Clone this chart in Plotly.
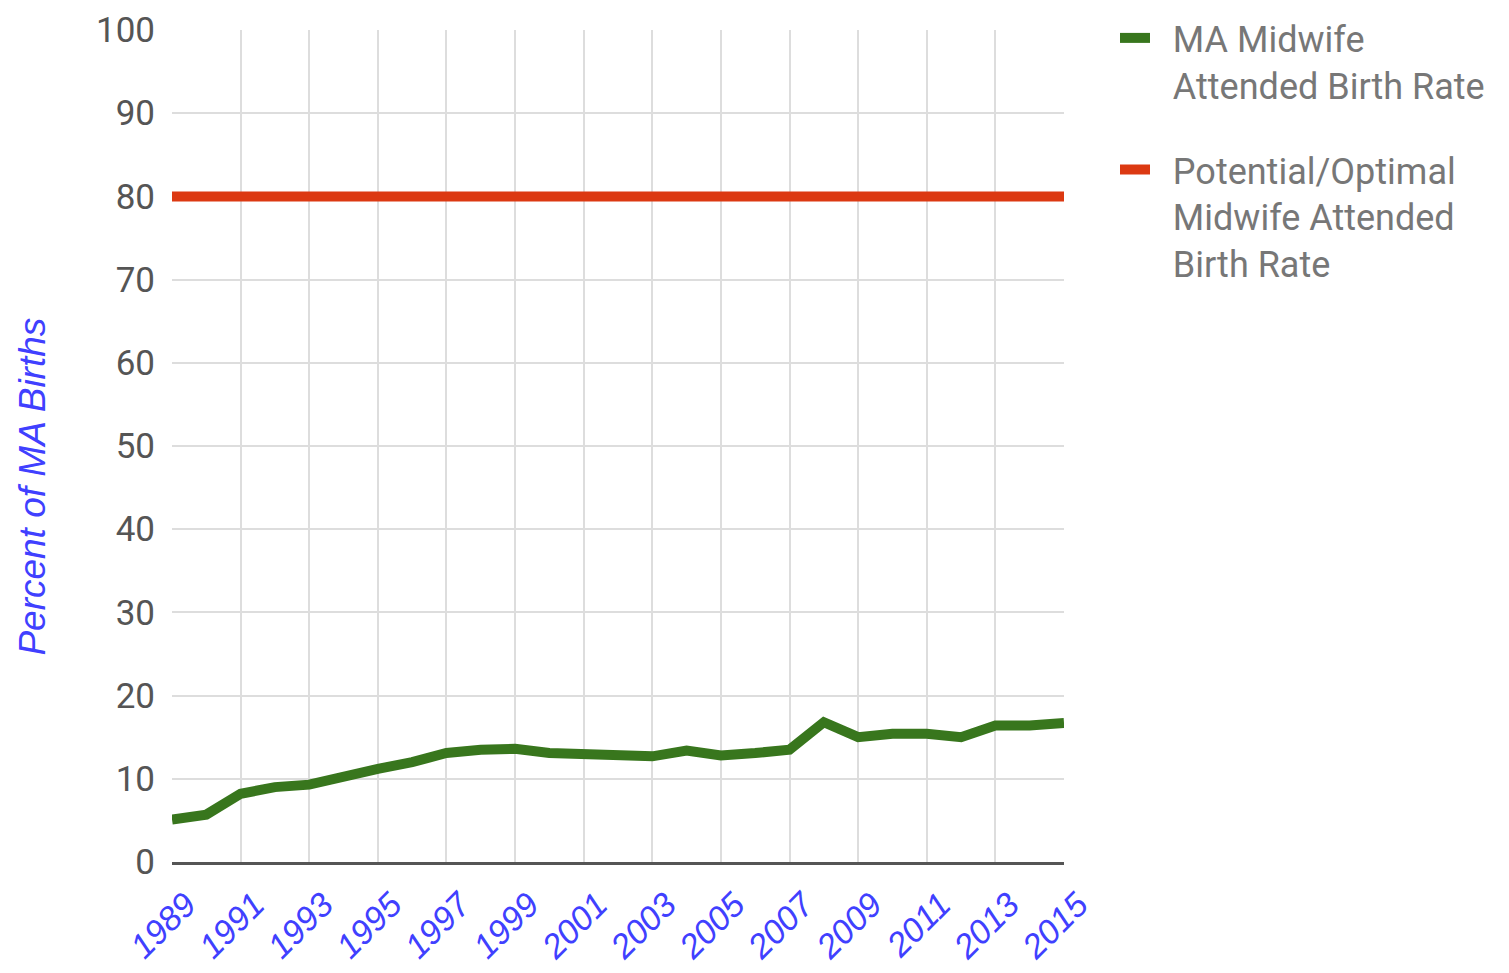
import plotly.graph_objects as go

years = list(range(1989, 2016))
ma_midwife_rate = [5.1, 5.7, 8.2, 9.0, 9.3, 10.4, 11.2, 12.0, 13.1, 13.5, 13.6, 13.1, 13.0,
                   12.7, 12.7, 13.4, 12.8, 13.1, 13.5, 16.8, 15.0, 15.4, 15.4, 15.0, 16.4, 16.4, 16.7]
optimal_rate = [80] * len(years)
tick_years = list(range(1989, 2016, 2))
y_ticks = list(range(0, 101, 10))
y_title = "Percent of MA Births"

pad = "\u00a0\u00a0"
series_names = [pad + "MA Midwife<br>" + pad + "Attended Birth Rate",
                pad + "Potential/Optimal<br>" + pad + "Midwife Attended<br>" + pad + "Birth Rate"]

fig = go.Figure()
fig.add_trace(go.Scatter(x=years, y=ma_midwife_rate, mode="lines", name=series_names[0],
                         legendgroup="a",
                         line=dict(color="#38761d", width=10)))
fig.add_trace(go.Scatter(x=years, y=optimal_rate, mode="lines", name=series_names[1],
                         legendgroup="b",
                         line=dict(color="#dc3912", width=10)))

fig.add_annotation(text=y_title, xref="paper", yref="paper", x=-0.156, y=0.451,
                   xanchor="center", yanchor="middle", textangle=-90, showarrow=False,
                   font=dict(family="Liberation Sans", size=37, color="#4040ff", style="italic"))

fig.update_layout(
    width=1509, height=973,
    margin=dict(l=164, r=453, t=22, b=119),
    paper_bgcolor="white", plot_bgcolor="white",
    font=dict(family="Roboto", color="#555555"),
    legend=dict(xref="container", yref="container", x=0.7336, y=1.006,
                xanchor="left", yanchor="top", valign="top",
                font=dict(family="Roboto", size=36, color="#777777"),
                tracegroupgap=35, itemwidth=30),
    xaxis=dict(range=[1989, 2015], tickvals=tick_years, ticktext=[str(t) for t in tick_years],
               tickangle=-45, showgrid=True, gridcolor="#dddddd", gridwidth=2,
               showline=True, linecolor="#555555", linewidth=3, zeroline=False,
               ticks="", ticklabelshift=14, ticklabelstandoff=6, automargin=False,
               tickfont=dict(family="Liberation Sans", size=34, color="#4040ff", style="italic")),
    yaxis=dict(range=[0, 100], tickvals=y_ticks, showgrid=True, gridcolor="#dddddd", gridwidth=2,
               zeroline=False, showline=False, ticks="", ticklabelstandoff=16, automargin=False,
               tickfont=dict(family="Roboto", size=35, color="#555555")),
)

fig.write_html("out.html")
